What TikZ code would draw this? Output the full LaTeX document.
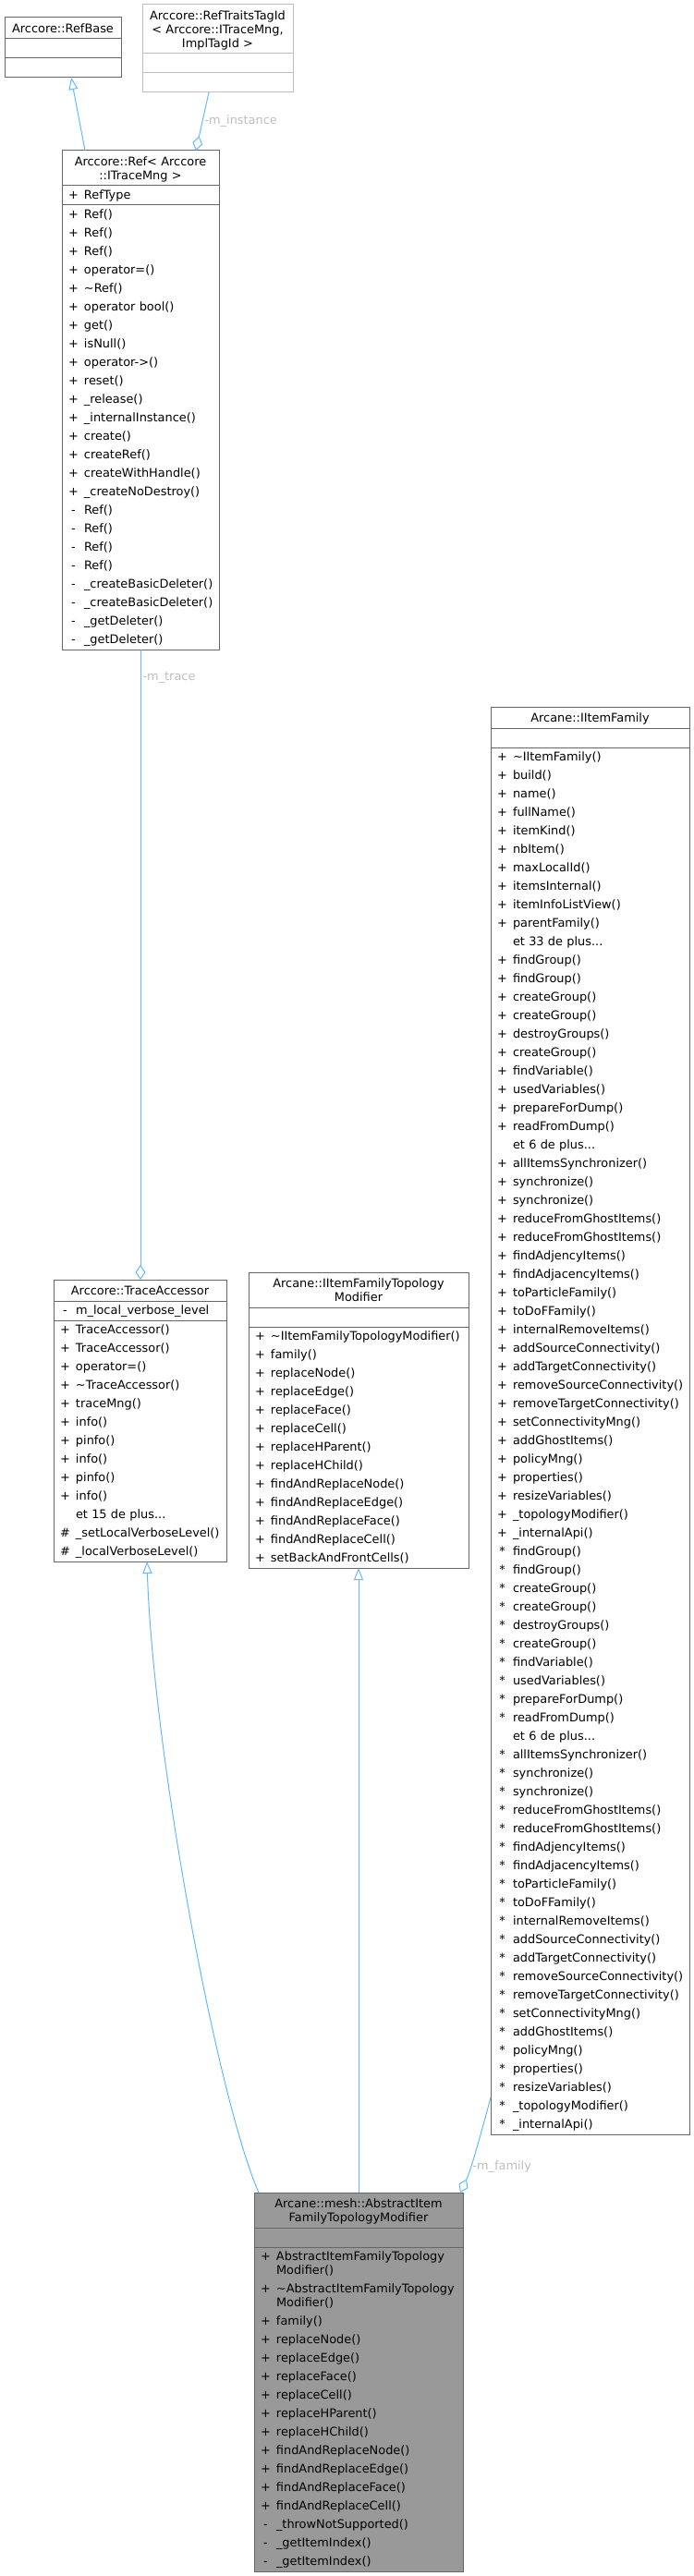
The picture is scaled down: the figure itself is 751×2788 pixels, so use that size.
\documentclass[tikz,border=0pt]{standalone}
\usepackage{fontspec}
\setmainfont{DejaVu Sans}
\usepackage{xcolor}
\usepackage{tikz}
\usetikzlibrary{positioning,arrows.meta,calc}
\definecolor{edgeblue}{HTML}{63B8FF}
\definecolor{boxgray}{HTML}{666666}
\definecolor{ghostgray}{HTML}{BFBFBF}
\definecolor{fillgray}{HTML}{999999}
\definecolor{lblgray}{HTML}{BEBEBE}

\begin{document}
\begin{tikzpicture}[x=1pt, y=-1pt,
  clstitle/.style={draw=boxgray, line width=1pt, outer sep=0pt, anchor=north west,
    inner xsep=4pt, inner ysep=4pt, text width=#1, align=center,
    font=\fontsize{12.9}{15}\selectfont},
  clspart/.style={draw=boxgray, line width=1pt, outer sep=0pt,
    inner xsep=4pt, inner ysep=0.5pt, text width=#1, align=left,
    font=\fontsize{12.9}{20}\selectfont},
  inherit/.style={draw=edgeblue, line width=1pt, -{Triangle[open, length=13pt, width=10pt]}},
  member/.style={draw=edgeblue, line width=1pt, -{Diamond[open, length=16pt, width=11pt]}},
  lbl/.style={text=lblgray, inner sep=2pt, font=\fontsize{12.9}{15}\selectfont}]
  \def\rowstrut{\rule[-6.3pt]{0pt}{20pt}}
  \def\titlestrut{\rule[-2.8pt]{0pt}{15pt}}
  \def\mrow#1#2{\mbox{\makebox[17pt]{#1}\hspace{3pt}#2\rowstrut}}
  \def\ctitle#1{\mbox{\titlestrut#1}}
  % shared member block of IItemFamily
  \def\famrows#1{\mrow{#1}{findGroup()}\\ \mrow{#1}{findGroup()}\\
    \mrow{#1}{createGroup()}\\ \mrow{#1}{createGroup()}\\
    \mrow{#1}{destroyGroups()}\\ \mrow{#1}{createGroup()}\\
    \mrow{#1}{findVariable()}\\ \mrow{#1}{usedVariables()}\\
    \mrow{#1}{prepareForDump()}\\ \mrow{#1}{readFromDump()}\\
    \mrow{}{et 6 de plus...}\\
    \mrow{#1}{allItemsSynchronizer()}\\ \mrow{#1}{synchronize()}\\
    \mrow{#1}{synchronize()}\\ \mrow{#1}{reduceFromGhostItems()}\\
    \mrow{#1}{reduceFromGhostItems()}\\ \mrow{#1}{findAdjencyItems()}\\
    \mrow{#1}{findAdjacencyItems()}\\ \mrow{#1}{toParticleFamily()}\\
    \mrow{#1}{toDoFFamily()}\\ \mrow{#1}{internalRemoveItems()}\\
    \mrow{#1}{addSourceConnectivity()}\\ \mrow{#1}{addTargetConnectivity()}\\
    \mrow{#1}{removeSourceConnectivity()}\\ \mrow{#1}{removeTargetConnectivity()}\\
    \mrow{#1}{setConnectivityMng()}\\ \mrow{#1}{addGhostItems()}\\
    \mrow{#1}{policyMng()}\\ \mrow{#1}{properties()}\\
    \mrow{#1}{resizeVariables()}\\ \mrow{#1}{\_topologyModifier()}\\
    \mrow{#1}{\_internalApi()}}

  \useasboundingbox (0,0) rectangle (751,2788);

  % Arccore::RefBase
  \node[clstitle=118pt] (rbT) at (5,19) {\ctitle{Arccore::RefBase}};
  \node[clspart=118pt, below=0pt of rbT] (rbA) {\rowstrut};
  \node[clspart=118pt, below=0pt of rbA] (rbM) {\rowstrut};

  % Arccore::RefTraitsTagId
  \node[clstitle=155pt, draw=ghostgray] (trT) at (154,5)
      {\ctitle{Arccore::RefTraitsTagId}\\\ctitle{< Arccore::ITraceMng,}\\\ctitle{ImplTagId >}};
  \node[clspart=155pt, draw=ghostgray, below=0pt of trT] (trA) {\rowstrut};
  \node[clspart=155pt, draw=ghostgray, below=0pt of trA] (trM) {\rowstrut};

  % Arccore::Ref
  \node[clstitle=162pt] (refT) at (67,163)
      {\ctitle{Arccore::Ref< Arccore}\\\ctitle{::ITraceMng >}};
  \node[clspart=162pt, below=0pt of refT] (refA) {\mrow{+}{RefType}};
  \node[clspart=162pt, below=0pt of refA] (refM)
      {\mrow{+}{Ref()}\\ \mrow{+}{Ref()}\\ \mrow{+}{Ref()}\\
       \mrow{+}{operator=()}\\ \mrow{+}{\textasciitilde Ref()}\\
       \mrow{+}{operator bool()}\\ \mrow{+}{get()}\\ \mrow{+}{isNull()}\\
       \mrow{+}{operator->()}\\ \mrow{+}{reset()}\\ \mrow{+}{\_release()}\\
       \mrow{+}{\_internalInstance()}\\ \mrow{+}{create()}\\
       \mrow{+}{createRef()}\\ \mrow{+}{createWithHandle()}\\
       \mrow{+}{\_createNoDestroy()}\\ \mrow{-}{Ref()}\\ \mrow{-}{Ref()}\\
       \mrow{-}{Ref()}\\ \mrow{-}{Ref()}\\ \mrow{-}{\_createBasicDeleter()}\\
       \mrow{-}{\_createBasicDeleter()}\\ \mrow{-}{\_getDeleter()}\\
       \mrow{-}{\_getDeleter()}};

  % Arccore::TraceAccessor
  \node[clstitle=179pt] (taT) at (58,1385) {\ctitle{Arccore::TraceAccessor}};
  \node[clspart=179pt, below=0pt of taT] (taA) {\mrow{-}{m\_local\_verbose\_level}};
  \node[clspart=179pt, below=0pt of taA] (taM)
      {\mrow{+}{TraceAccessor()}\\ \mrow{+}{TraceAccessor()}\\
       \mrow{+}{operator=()}\\ \mrow{+}{\textasciitilde TraceAccessor()}\\
       \mrow{+}{traceMng()}\\ \mrow{+}{info()}\\ \mrow{+}{pinfo()}\\
       \mrow{+}{info()}\\ \mrow{+}{pinfo()}\\ \mrow{+}{info()}\\
       \mrow{}{et 15 de plus...}\\ \mrow{\#}{\_setLocalVerboseLevel()}\\
       \mrow{\#}{\_localVerboseLevel()}};

  % Arcane::IItemFamilyTopologyModifier
  \node[clstitle=230pt] (topoT) at (269,1377)
      {\ctitle{Arcane::IItemFamilyTopology}\\\ctitle{Modifier}};
  \node[clspart=230pt, below=0pt of topoT] (topoA) {\rowstrut};
  \node[clspart=230pt, below=0pt of topoA] (topoM)
      {\mrow{+}{\textasciitilde IItemFamilyTopologyModifier()}\\
       \mrow{+}{family()}\\ \mrow{+}{replaceNode()}\\ \mrow{+}{replaceEdge()}\\
       \mrow{+}{replaceFace()}\\ \mrow{+}{replaceCell()}\\
       \mrow{+}{replaceHParent()}\\ \mrow{+}{replaceHChild()}\\
       \mrow{+}{findAndReplaceNode()}\\ \mrow{+}{findAndReplaceEdge()}\\
       \mrow{+}{findAndReplaceFace()}\\ \mrow{+}{findAndReplaceCell()}\\
       \mrow{+}{setBackAndFrontCells()}};

  % Arcane::IItemFamily
  \node[clstitle=207pt] (famT) at (531,765) {\ctitle{Arcane::IItemFamily}};
  \node[clspart=207pt, below=0pt of famT] (famA) {\rowstrut};
  \node[clspart=207pt, below=0pt of famA] (famM)
      {\mrow{+}{\textasciitilde IItemFamily()}\\ \mrow{+}{build()}\\
       \mrow{+}{name()}\\ \mrow{+}{fullName()}\\ \mrow{+}{itemKind()}\\
       \mrow{+}{nbItem()}\\ \mrow{+}{maxLocalId()}\\ \mrow{+}{itemsInternal()}\\
       \mrow{+}{itemInfoListView()}\\ \mrow{+}{parentFamily()}\\
       \mrow{}{et 33 de plus...}\\
       \famrows{+}\\
       \famrows{*}};

  % Arcane::mesh::AbstractItemFamilyTopologyModifier
  \node[clstitle=218pt, fill=fillgray] (absT) at (275,2373)
      {\ctitle{Arcane::mesh::AbstractItem}\\\ctitle{FamilyTopologyModifier}};
  \node[clspart=218pt, fill=fillgray, below=0pt of absT] (absA) {\rowstrut};
  \node[clspart=218pt, fill=fillgray, below=0pt of absA] (absM)
      {\mrow{+}{AbstractItemFamilyTopology}\\[-5pt] \mrow{}{Modifier()}\\
       \mrow{+}{\textasciitilde AbstractItemFamilyTopology}\\[-5pt] \mrow{}{Modifier()}\\
       \mrow{+}{family()}\\ \mrow{+}{replaceNode()}\\ \mrow{+}{replaceEdge()}\\
       \mrow{+}{replaceFace()}\\ \mrow{+}{replaceCell()}\\
       \mrow{+}{replaceHParent()}\\ \mrow{+}{replaceHChild()}\\
       \mrow{+}{findAndReplaceNode()}\\ \mrow{+}{findAndReplaceEdge()}\\
       \mrow{+}{findAndReplaceFace()}\\ \mrow{+}{findAndReplaceCell()}\\
       \mrow{-}{\_throwNotSupported()}\\ \mrow{-}{\_getItemIndex()}\\
       \mrow{-}{\_getItemIndex()}};

  % connectors
  \draw[inherit] ($(refT.north west)+(25,0)$) -- ($(rbM.south west)+(72,0)$);
  \draw[member] ($(trM.south west)+(72,0)$) --
      node[lbl, midway, right] {-m\_instance} ($(refT.north west)+(145,0)$);
  \draw[member] ($(refM.south west)+(85,0)$) --
      node[lbl, pos=0.045, right] {-m\_trace} ($(taT.north west)+(94,0)$);
  \draw[inherit] ($(absT.north west)+(5,0)$) .. controls +(-45,-103) and +(7,210) ..
      ($(taM.south west)+(101,0)$);
  \draw[inherit] ($(absT.north west)+(113,0)$) -- ($(topoM.south west)+(119,0)$);
  \draw[member] ($(famM.south west)+(0,-40)$) .. controls +(-8,30) and +(12,-25) ..
      node[lbl, pos=0.7, right] {-m\_family} ($(absT.north west)+(223,0)$);
\end{tikzpicture}
\end{document}
